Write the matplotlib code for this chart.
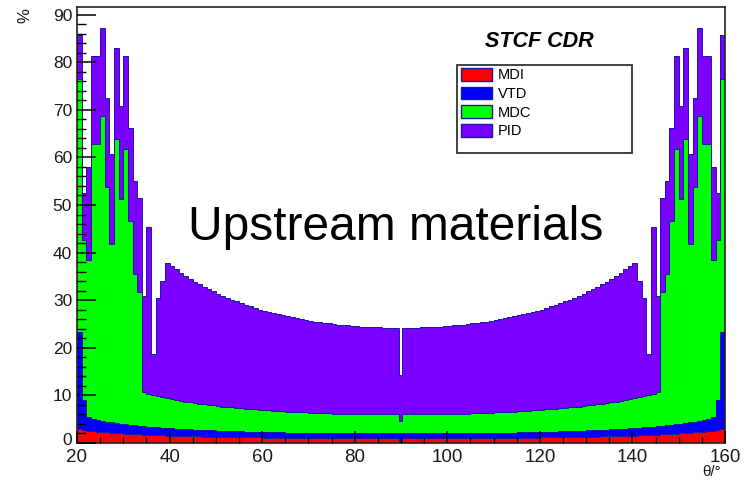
import matplotlib
matplotlib.use("Agg")
import matplotlib.pyplot as plt
import matplotlib.transforms as mtransforms
from matplotlib.patches import Patch, Rectangle
from matplotlib.ticker import MultipleLocator
import numpy as np

plt.rcParams['font.family'] = ['Liberation Sans', 'DejaVu Sans']

# ---------------- data (percent of X0 per theta bin) ----------------
theta_edges = list(range(20, 90)) + [89.55, 90.3] + list(range(91, 161))

mdi = [2.86, 2.73, 2.61, 2.51, 2.41, 2.32, 2.24, 2.17, 2.10, 2.03,
       1.97, 1.91, 1.86, 1.81, 1.77, 1.72, 1.68, 1.64, 1.61, 1.57,
       1.54, 1.51, 1.48, 1.45, 1.43, 1.40, 1.38, 1.36, 1.34, 1.32,
       1.30, 1.28, 1.26, 1.24, 1.23, 1.21, 1.20, 1.19, 1.17, 1.16,
       1.15, 1.14, 1.13, 1.12, 1.11, 1.10, 1.09, 1.08, 1.07, 1.07,
       1.06, 1.05, 1.05, 1.04, 1.04, 1.03, 1.03, 1.02, 1.02, 1.02,
       1.01, 1.01, 1.01, 1.01, 1.00, 1.00, 1.00, 1.00, 1.00, 1.00,
       0.20,
       1.00, 1.00, 1.00, 1.00, 1.00, 1.00, 1.01, 1.01, 1.01, 1.01,
       1.02, 1.02, 1.02, 1.03, 1.03, 1.04, 1.04, 1.05, 1.05, 1.06,
       1.07, 1.07, 1.08, 1.09, 1.10, 1.11, 1.12, 1.13, 1.14, 1.15,
       1.16, 1.17, 1.19, 1.20, 1.21, 1.23, 1.24, 1.26, 1.28, 1.30,
       1.32, 1.34, 1.36, 1.38, 1.40, 1.43, 1.45, 1.48, 1.51, 1.54,
       1.57, 1.61, 1.64, 1.68, 1.72, 1.77, 1.81, 1.86, 1.91, 1.97,
       2.03, 2.10, 2.17, 2.24, 2.32, 2.41, 2.51, 2.61, 2.73, 2.86]

vtd = [20.54, 6.27, 2.89, 2.51, 2.41, 2.32, 2.24, 2.17, 2.10, 2.03,
       1.97, 1.91, 1.86, 1.81, 1.77, 1.72, 1.68, 1.64, 1.61, 1.57,
       1.54, 1.51, 1.48, 1.45, 1.43, 1.40, 1.38, 1.36, 1.34, 1.32,
       1.30, 1.28, 1.26, 1.24, 1.23, 1.21, 1.20, 1.19, 1.17, 1.16,
       1.15, 1.14, 1.13, 1.12, 1.11, 1.10, 1.09, 1.08, 1.07, 1.07,
       1.06, 1.05, 1.05, 1.04, 1.04, 1.03, 1.03, 1.02, 1.02, 1.02,
       1.01, 1.01, 1.01, 1.01, 1.00, 1.00, 1.00, 1.00, 1.00, 1.00,
       1.80,
       1.00, 1.00, 1.00, 1.00, 1.00, 1.00, 1.01, 1.01, 1.01, 1.01,
       1.02, 1.02, 1.02, 1.03, 1.03, 1.04, 1.04, 1.05, 1.05, 1.06,
       1.07, 1.07, 1.08, 1.09, 1.10, 1.11, 1.12, 1.13, 1.14, 1.15,
       1.16, 1.17, 1.19, 1.20, 1.21, 1.23, 1.24, 1.26, 1.28, 1.30,
       1.32, 1.34, 1.36, 1.38, 1.40, 1.43, 1.45, 1.48, 1.51, 1.54,
       1.57, 1.61, 1.64, 1.68, 1.72, 1.77, 1.81, 1.86, 1.91, 1.97,
       2.03, 2.10, 2.17, 2.24, 2.32, 2.41, 2.51, 2.89, 6.27, 20.54]

mdc = [53.0, 33.7, 33.0, 57.8, 58.0, 64.1, 49.2, 37.4, 59.6, 47.1,
       57.8, 42.8, 31.7, 28.0, 7.1, 6.9, 6.7, 6.6, 6.4, 6.3,
       6.2, 6.0, 5.9, 5.8, 5.7, 5.6, 5.5, 5.4, 5.3, 5.3,
       5.2, 5.1, 5.0, 5.0, 4.9, 4.9, 4.8, 4.7, 4.7, 4.6,
       4.6, 4.6, 4.5, 4.5, 4.4, 4.4, 4.4, 4.3, 4.3, 4.3,
       4.2, 4.2, 4.2, 4.2, 4.2, 4.1, 4.1, 4.1, 4.1, 4.1,
       4.1, 4.0, 4.0, 4.0, 4.0, 4.0, 4.0, 4.0, 4.0, 4.0,
       2.7,
       4.0, 4.0, 4.0, 4.0, 4.0, 4.0, 4.0, 4.0, 4.0, 4.1,
       4.1, 4.1, 4.1, 4.1, 4.1, 4.2, 4.2, 4.2, 4.2, 4.2,
       4.3, 4.3, 4.3, 4.4, 4.4, 4.4, 4.5, 4.5, 4.6, 4.6,
       4.6, 4.7, 4.7, 4.8, 4.9, 4.9, 5.0, 5.0, 5.1, 5.2,
       5.3, 5.3, 5.4, 5.5, 5.6, 5.7, 5.8, 5.9, 6.0, 6.2,
       6.3, 6.4, 6.6, 6.7, 6.9, 7.1, 28.0, 31.7, 42.8, 57.8,
       47.1, 59.6, 37.4, 49.2, 64.1, 58.0, 57.8, 33.0, 33.7, 53.0]

pid = [9.3, 9.9, 19.4, 18.5, 18.5, 18.5, 18.7, 18.9, 19.1, 19.6,
       19.6, 19.5, 19.6, 19.8, 20.2, 35.0, 8.6, 20.6, 24.4, 28.3,
       28.0, 27.5, 26.9, 26.4, 26.0, 25.5, 25.1, 24.7, 24.3, 23.9,
       23.6, 23.3, 22.9, 22.6, 22.4, 22.1, 21.8, 21.6, 21.3, 21.1,
       20.9, 20.7, 20.5, 20.3, 20.2, 20.0, 19.8, 19.7, 19.6, 19.4,
       19.3, 19.2, 19.1, 19.0, 18.9, 18.8, 18.7, 18.6, 18.6, 18.5,
       18.5, 18.4, 18.4, 18.3, 18.3, 18.3, 18.2, 18.2, 18.2, 18.2,
       9.6,
       18.2, 18.2, 18.2, 18.2, 18.3, 18.3, 18.3, 18.4, 18.4, 18.5,
       18.5, 18.6, 18.6, 18.7, 18.8, 18.9, 19.0, 19.1, 19.2, 19.3,
       19.4, 19.6, 19.7, 19.8, 20.0, 20.2, 20.3, 20.5, 20.7, 20.9,
       21.1, 21.3, 21.6, 21.8, 22.1, 22.4, 22.6, 22.9, 23.3, 23.6,
       23.9, 24.3, 24.7, 25.1, 25.5, 26.0, 26.4, 26.9, 27.5, 28.0,
       28.3, 24.4, 20.6, 8.6, 35.0, 20.2, 19.8, 19.6, 19.5, 19.6,
       19.6, 19.1, 18.9, 18.7, 18.5, 18.5, 18.5, 19.4, 9.9, 9.3]

layer_names = ["MDI", "VTD", "MDC", "PID"]
layer_values = [mdi, vtd, mdc, pid]
layer_colors = ["#ff0000", "#0000ff", "#00ff00", "#7a00ff"]
x_ticks = [20, 40, 60, 80, 100, 120, 140, 160]
y_ticks = [0, 10, 20, 30, 40, 50, 60, 70, 80, 90]

# ---------------- figure ----------------
W, H = 749, 480
fig = plt.figure(figsize=(W / 100, H / 100), dpi=100)
ax = fig.add_axes([77 / W, 1 - 443 / H, (725 - 77) / W, (443 - 7) / H])

edge_col = "#1a1aa0"
edges = np.array(theta_edges, dtype=float)
bottom = np.zeros(len(mdi))
for vals, col in zip(layer_values, layer_colors):
    top = bottom + np.array(vals, dtype=float)
    ax.stairs(top, edges, baseline=bottom, fill=True, facecolor=col,
              edgecolor="none", linewidth=0, zorder=1)
    ax.stairs(top, edges, baseline=None, color=edge_col, linewidth=0.7,
              zorder=1.2)
    bottom = top

ax.set_xlim(20, 160)
ax.set_ylim(0, 91.6)
ax.set_xticks(x_ticks)
ax.set_yticks(y_ticks)
ax.xaxis.set_minor_locator(MultipleLocator(5))
ax.yaxis.set_minor_locator(MultipleLocator(2))
ax.set_axisbelow(False)
ax.tick_params(axis="both", which="both", direction="in", top=False,
               right=False, colors="black", labelcolor="#1a1a1a")
ax.tick_params(axis="y", which="major", length=13.5, width=1.1, pad=3.5,
               labelsize=12.5)
ax.tick_params(axis="y", which="minor", length=6.5, width=1.0)
ax.tick_params(axis="x", which="major", length=8.5, width=1.1, pad=4.6,
               labelsize=13.5)
ax.tick_params(axis="x", which="minor", length=4.3, width=1.0)
for s in ax.spines.values():
    s.set_linewidth(1.2)
    s.set_color("#222222")

# nudge the "0" label a little up so it just touches the "20" below it
fig.canvas.draw()
zero_lab = ax.get_yticklabels()[0]
zero_lab.set_transform(zero_lab.get_transform() +
                       mtransforms.ScaledTranslation(0, 3 / 72,
                                                     fig.dpi_scale_trans))

# axis titles
fig.text(25 / W, 1 - 16 / H, "%", rotation=90, ha="center", va="center",
         fontsize=12, color="#1a1a1a")
fig.text(712 / W, 1 - 476 / H, "θ/°", ha="center", va="baseline",
         fontsize=11, color="#1a1a1a")

# annotations
fig.text(485 / W, 1 - 47 / H, "STCF CDR", fontweight="bold",
         fontstyle="italic", fontsize=15.5, ha="left", va="baseline",
         color="black")
fig.text(188 / W, 1 - 240 / H, "Upstream materials", fontsize=34.5,
         ha="left", va="baseline", color="black")

# legend
frame = Rectangle((456.7 / W, 1 - 153 / H), 175 / W, 88 / H,
                  transform=fig.transFigure, facecolor="white",
                  edgecolor="#333333", linewidth=1.3, zorder=5)
fig.patches.append(frame)
handles = [Patch(facecolor=c, edgecolor=edge_col, linewidth=1.0)
           for c in layer_colors]
leg = fig.legend(handles, layer_names, loc="upper left",
                 bbox_to_anchor=(461 / W, 1 - 68 / H),
                 bbox_transform=fig.transFigure, frameon=False,
                 fontsize=10.5, handlelength=2.1, handleheight=0.95,
                 labelspacing=0.3, handletextpad=0.45, borderpad=0,
                 borderaxespad=0)
leg.set_zorder(6)

fig.savefig("out.png", dpi=100)
